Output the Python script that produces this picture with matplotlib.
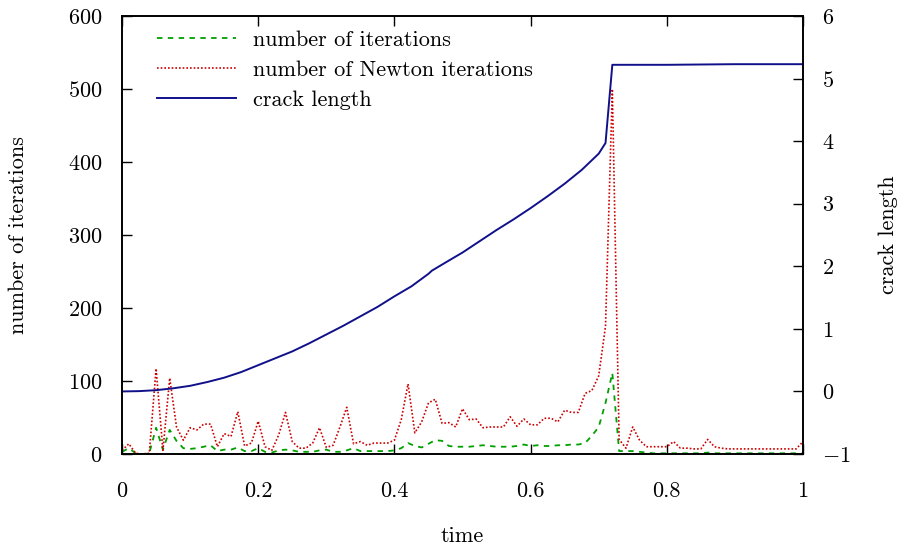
import matplotlib
matplotlib.use("Agg")
import matplotlib.pyplot as plt
import numpy as np

plt.rcParams['font.family'] = ['cmr10', 'DejaVu Serif']
plt.rcParams['mathtext.fontset'] = 'cm'
plt.rcParams['axes.formatter.use_mathtext'] = True
plt.rcParams['font.size'] = 16

# time steps
t = np.round(np.arange(0, 1.001, 0.01), 2)

# number of Newton iterations
newton = [5, 14, 1, 0, 1, 117, 5, 104, 37, 19,
          36, 33, 41, 41, 10, 28, 24, 58, 11, 15,
          45, 10, 5, 26, 57, 17, 8, 8, 15, 36,
          9, 12, 37, 64, 14, 17, 12, 15, 15, 15,
          19, 47, 96, 29, 44, 70, 75, 42, 43, 37,
          62, 47, 48, 36, 37, 37, 37, 51, 38, 48,
          40, 40, 49, 49, 44, 60, 57, 57, 83, 87,
          107, 175, 500, 20, 8, 37, 19, 10, 10, 10,
          10, 17, 8, 8, 7, 7, 20, 10, 8, 7,
          7, 7, 7, 7, 7, 7, 7, 7, 7, 7, 17]

# number of iterations
iters = [3, 8, 1, 0, 1, 36, 6, 33, 18, 8,
         7, 8, 10, 12, 4, 6, 6, 9, 4, 4,
         8, 3, 2, 5, 6, 5, 3, 3, 3, 5,
         6, 3, 3, 5, 8, 4, 4, 4, 4, 4,
         5, 8, 15, 11, 9, 14, 19, 18, 11, 10,
         10, 10, 11, 12, 11, 10, 10, 10, 11, 13,
         11, 12, 11, 11, 12, 12, 13, 13, 15, 25,
         37, 70, 111, 4, 4, 4, 3, 2, 1, 1,
         1, 1, 1, 1, 1, 1, 2, 1, 1, 1,
         1, 1, 1, 1, 1, 1, 1, 1, 1, 1, 1]

# crack length
t_crack = [0, 0.025, 0.05, 0.075, 0.1, 0.125, 0.15, 0.175, 0.2, 0.225,
           0.25, 0.275, 0.3, 0.325, 0.35, 0.375, 0.4, 0.425, 0.45, 0.455,
           0.475, 0.5, 0.525, 0.55, 0.575, 0.6, 0.625, 0.65, 0.675, 0.7,
           0.71, 0.72, 0.8, 0.9, 1.0]
crack = [0.0, 0.005, 0.02, 0.05, 0.09, 0.15, 0.22, 0.31, 0.42, 0.53,
         0.64, 0.77, 0.91, 1.05, 1.2, 1.35, 1.52, 1.68, 1.88, 1.93,
         2.06, 2.22, 2.4, 2.58, 2.75, 2.93, 3.12, 3.32, 3.54, 3.8,
         3.97, 5.22, 5.22, 5.23, 5.23]

fig = plt.figure(figsize=(8.98, 5.48), dpi=100)
ax = fig.add_axes([0.1359, 0.1715, 0.7583, 0.7993])
ax2 = ax.twinx()

l1, = ax.plot(t, iters, color='#00a000', lw=1.3, ls=(0, (3, 3)), label='number of iterations')
l2, = ax.plot(t, newton, color='#cc0000', lw=1.2, ls=(0, (1, 1.2)), label='number of Newton iterations')
l3, = ax2.plot(t_crack, crack, color='#10108a', lw=1.4, label='crack length')

ax.set_xlim(0, 1)
ax.set_ylim(0, 600)
ax2.set_ylim(-1, 6)
ax.set_xticks([0, 0.2, 0.4, 0.6, 0.8, 1])
ax.set_xticklabels(['0', '0.2', '0.4', '0.6', '0.8', '1'])
ax.set_yticks(range(0, 601, 100))
ax2.set_yticks(range(-1, 7))

ax.tick_params(direction='in', length=7, width=1, top=True, right=False)
ax.tick_params(axis='x', pad=20)
ax.tick_params(axis='y', pad=14)
ax2.tick_params(direction='in', length=7, width=1, pad=14)
for a in (ax, ax2):
    for s in a.spines.values():
        s.set_linewidth(1.2)

ax.set_xlabel('time', labelpad=18)
ax.set_ylabel('number of iterations', labelpad=29)
ax2.set_ylabel('crack length', labelpad=20)

leg = ax.legend(handles=[l1, l2, l3], loc='upper left', frameon=False,
                bbox_to_anchor=(0.051, 0.967), handlelength=3.55, handletextpad=0.77,
                labelspacing=0.46, borderaxespad=0, borderpad=0)

fig.savefig('out.png', dpi=100)
